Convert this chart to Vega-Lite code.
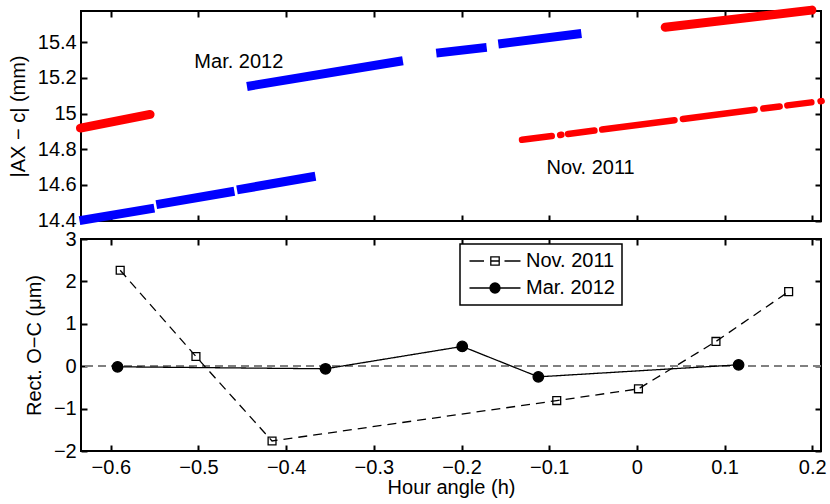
{
  "$schema": "https://vega.github.io/schema/vega-lite/v6.json",
  "padding": {"left": 7, "top": 4, "right": 0, "bottom": 0},
  "spacing": 18,
  "bounds": "flush",
  "config": {
    "font": "Liberation Sans",
    "view": {"stroke": "black", "strokeWidth": 2},
    "axis": {
      "domain": false, "grid": false, "tickColor": "black", "tickWidth": 2, "tickSize": -6,
      "labelFontSize": 20, "labelColor": "black", "labelFlush": false,
      "titleFontSize": 20, "titleFontWeight": "normal", "titleColor": "black",
      "minExtent": 0, "offset": 0
    },
    "axisX": {"labelPadding": 12, "titlePadding": 0},
    "axisY": {"labelPadding": 10.8, "titlePadding": 9},
    "legend": {"strokeWidth": 1.5}
  },
  "datasets": {
    "tracks": [
      {"campaign": "Nov. 2011", "seg": "N1", "ha": -0.6346, "ac": 14.919},
      {"campaign": "Nov. 2011", "seg": "N1", "ha": -0.5552, "ac": 14.9955},
      {"campaign": "Nov. 2011", "seg": "N3", "ha": 0.0323, "ac": 15.484},
      {"campaign": "Nov. 2011", "seg": "N3", "ha": 0.1996, "ac": 15.58},
      {"campaign": "Nov. 2011", "seg": "N2a", "ha": -0.131, "ac": 14.853},
      {"campaign": "Nov. 2011", "seg": "N2a", "ha": -0.0971, "ac": 14.874},
      {"campaign": "Nov. 2011", "seg": "N2b", "ha": -0.0875, "ac": 14.88},
      {"campaign": "Nov. 2011", "seg": "N2b", "ha": -0.0861, "ac": 14.881},
      {"campaign": "Nov. 2011", "seg": "N2c", "ha": -0.0785, "ac": 14.886},
      {"campaign": "Nov. 2011", "seg": "N2c", "ha": -0.0484, "ac": 14.905},
      {"campaign": "Nov. 2011", "seg": "N2d", "ha": -0.0396, "ac": 14.911},
      {"campaign": "Nov. 2011", "seg": "N2d", "ha": 0.0429, "ac": 14.963},
      {"campaign": "Nov. 2011", "seg": "N2e", "ha": 0.0525, "ac": 14.97},
      {"campaign": "Nov. 2011", "seg": "N2e", "ha": 0.1343, "ac": 15.022},
      {"campaign": "Nov. 2011", "seg": "N2f", "ha": 0.1442, "ac": 15.028},
      {"campaign": "Nov. 2011", "seg": "N2f", "ha": 0.1628, "ac": 15.04},
      {"campaign": "Nov. 2011", "seg": "N2g", "ha": 0.1716, "ac": 15.046},
      {"campaign": "Nov. 2011", "seg": "N2g", "ha": 0.199, "ac": 15.063},
      {"campaign": "Nov. 2011", "seg": "N2h", "ha": 0.2095, "ac": 15.069},
      {"campaign": "Nov. 2011", "seg": "N2h", "ha": 0.2107, "ac": 15.07},
      {"campaign": "Mar. 2012", "seg": "M1", "ha": -0.6357, "ac": 14.4},
      {"campaign": "Mar. 2012", "seg": "M1", "ha": -0.5504, "ac": 14.47},
      {"campaign": "Mar. 2012", "seg": "M2", "ha": -0.5481, "ac": 14.49},
      {"campaign": "Mar. 2012", "seg": "M2", "ha": -0.4591, "ac": 14.565},
      {"campaign": "Mar. 2012", "seg": "M3", "ha": -0.4561, "ac": 14.5725},
      {"campaign": "Mar. 2012", "seg": "M3", "ha": -0.3666, "ac": 14.649},
      {"campaign": "Mar. 2012", "seg": "M4", "ha": -0.4447, "ac": 15.152},
      {"campaign": "Mar. 2012", "seg": "M4", "ha": -0.2669, "ac": 15.296},
      {"campaign": "Mar. 2012", "seg": "M5", "ha": -0.2288, "ac": 15.339},
      {"campaign": "Mar. 2012", "seg": "M5", "ha": -0.1713, "ac": 15.371},
      {"campaign": "Mar. 2012", "seg": "M6", "ha": -0.158, "ac": 15.39},
      {"campaign": "Mar. 2012", "seg": "M6", "ha": -0.0633, "ac": 15.449}
    ],
    "labels": [
      {"ha": -0.454, "ac": 15.258, "label": "Mar. 2012"},
      {"ha": -0.0528, "ac": 14.663, "label": "Nov. 2011"}
    ],
    "residuals": [
      {"campaign": "Nov. 2011", "ha": -0.5893, "oc": 2.262},
      {"campaign": "Nov. 2011", "ha": -0.5029, "oc": 0.229},
      {"campaign": "Nov. 2011", "ha": -0.4161, "oc": -1.764},
      {"campaign": "Nov. 2011", "ha": -0.0914, "oc": -0.811},
      {"campaign": "Nov. 2011", "ha": 0.0018, "oc": -0.534},
      {"campaign": "Nov. 2011", "ha": 0.0902, "oc": 0.584},
      {"campaign": "Nov. 2011", "ha": 0.1731, "oc": 1.759},
      {"campaign": "Mar. 2012", "ha": -0.5923, "oc": -0.014},
      {"campaign": "Mar. 2012", "ha": -0.3551, "oc": -0.061},
      {"campaign": "Mar. 2012", "ha": -0.1992, "oc": 0.466},
      {"campaign": "Mar. 2012", "ha": -0.1124, "oc": -0.251},
      {"campaign": "Mar. 2012", "ha": 0.116, "oc": 0.033}
    ]
  },
  "vconcat": [
    {
      "width": 740,
      "height": 210,
      "layer": [
        {
          "data": {"name": "tracks"},
          "transform": [{"filter": "datum.campaign === 'Mar. 2012'"}],
          "mark": {"type": "line", "strokeWidth": 9, "strokeCap": "butt", "strokeJoin": "round", "color": "#0000ff"},
          "encoding": {
            "x": {"field": "ha", "type": "quantitative",
              "scale": {"domain": [-0.634, 0.21], "nice": false, "zero": false},
              "axis": {"orient": "bottom", "labels": false, "title": null, "values": [-0.6, -0.5, -0.4, -0.3, -0.2, -0.1, 0, 0.1, 0.2]}},
            "y": {"field": "ac", "type": "quantitative",
              "scale": {"domain": [14.398, 15.575], "nice": false, "zero": false},
              "axis": {"orient": "left", "title": "|AX − c| (mm)", "format": "~g", "values": [14.4, 14.6, 14.8, 15, 15.2, 15.4]}},
            "detail": {"field": "seg"}
          }
        },
        {
          "data": {"name": "tracks"},
          "transform": [{"filter": "datum.seg === 'N1' || datum.seg === 'N3'"}],
          "mark": {"type": "line", "strokeWidth": 9, "strokeCap": "round", "strokeJoin": "round", "color": "#ff0000"},
          "encoding": {
            "x": {"field": "ha", "type": "quantitative", "axis": null},
            "y": {"field": "ac", "type": "quantitative", "axis": null},
            "detail": {"field": "seg"}
          }
        },
        {
          "data": {"name": "tracks"},
          "transform": [{"filter": "datum.campaign === 'Nov. 2011' && datum.seg !== 'N1' && datum.seg !== 'N3'"}],
          "mark": {"type": "line", "strokeWidth": 6.5, "strokeCap": "round", "strokeJoin": "round", "color": "#ff0000"},
          "encoding": {
            "x": {"field": "ha", "type": "quantitative", "axis": null},
            "y": {"field": "ac", "type": "quantitative", "axis": null},
            "detail": {"field": "seg"}
          }
        },
        {
          "data": {"name": "labels"},
          "mark": {"type": "text", "fontSize": 20, "align": "center", "baseline": "alphabetic", "color": "black"},
          "encoding": {
            "x": {"field": "ha", "type": "quantitative",
              "axis": {"orient": "top", "labels": false, "title": null, "values": [-0.6, -0.5, -0.4, -0.3, -0.2, -0.1, 0, 0.1, 0.2]}},
            "y": {"field": "ac", "type": "quantitative",
              "axis": {"orient": "right", "labels": false, "title": null, "values": [14.4, 14.6, 14.8, 15, 15.2, 15.4]}},
            "text": {"field": "label"}
          }
        }
      ]
    },
    {
      "width": 740,
      "height": 212,
      "data": {"name": "residuals"},
      "layer": [
        {
          "mark": {"type": "rule", "color": "#808080", "strokeWidth": 1.2, "strokeDash": [8, 5]},
          "encoding": {
            "y": {"datum": 0, "type": "quantitative", "axis": null}
          }
        },
        {
          "mark": {"type": "line", "color": "black", "strokeWidth": 1.3},
          "encoding": {
            "x": {"field": "ha", "type": "quantitative",
              "scale": {"domain": [-0.634, 0.21], "nice": false, "zero": false},
              "axis": {"orient": "bottom", "title": "Hour angle (h)", "format": "~g", "values": [-0.6, -0.5, -0.4, -0.3, -0.2, -0.1, 0, 0.1, 0.2]}},
            "y": {"field": "oc", "type": "quantitative",
              "scale": {"domain": [-2, 3], "nice": false, "zero": false},
              "axis": {"orient": "left", "title": "Rect. O−C (μm)", "format": "~g", "values": [-2, -1, 0, 1, 2, 3]}},
            "detail": {"field": "campaign"},
            "strokeDash": {"condition": {"test": "datum.campaign === 'Nov. 2011'", "value": [9, 6]}, "value": [1, 0]}
          }
        },
        {
          "mark": {"type": "point", "filled": true, "stroke": "black", "strokeWidth": 1.3, "size": 110, "opacity": 1},
          "encoding": {
            "x": {"field": "ha", "type": "quantitative",
              "axis": {"orient": "top", "labels": false, "title": null, "values": [-0.6, -0.5, -0.4, -0.3, -0.2, -0.1, 0, 0.1, 0.2]}},
            "y": {"field": "oc", "type": "quantitative",
              "axis": {"orient": "right", "labels": false, "title": null, "values": [-2, -1, 0, 1, 2, 3]}},
            "fill": {"condition": {"test": "datum.campaign === 'Mar. 2012'", "value": "black"}, "value": "transparent"},
            "shape": {"condition": {"test": "datum.campaign === 'Nov. 2011'", "value": "M-0.75,-0.75H0.75V0.75H-0.75Z"}, "value": "circle"}
          }
        },
        {
          "transform": [{"filter": "false"}],
          "mark": {"type": "point", "filled": true, "strokeWidth": 1.3, "opacity": 1},
          "encoding": {
            "x": {"field": "ha", "type": "quantitative", "axis": null},
            "y": {"field": "oc", "type": "quantitative", "axis": null},
            "stroke": {"field": "campaign", "type": "nominal",
              "scale": {"domain": ["Nov. 2011", "Mar. 2012"], "range": ["black", "black"]},
              "legend": {
                "orient": "none", "legendX": 379, "legendY": 233, "title": null,
                "labelFontSize": 20, "labelColor": "black", "labelOffset": 21,
                "symbolOffset": 18, "symbolSize": 100, "symbolStrokeWidth": 1.3,
                "rowPadding": 7, "padding": 7, "strokeColor": "black", "fillColor": "white"
              }},
            "fill": {"field": "campaign", "type": "nominal",
              "scale": {"domain": ["Nov. 2011", "Mar. 2012"], "range": ["transparent", "black"]},
              "legend": {
                "orient": "none", "legendX": 379, "legendY": 233, "title": null,
                "labelFontSize": 20, "labelColor": "black", "labelOffset": 21,
                "symbolOffset": 18, "symbolSize": 100, "symbolStrokeWidth": 1.3,
                "rowPadding": 7, "padding": 7, "strokeColor": "black", "fillColor": "white"
              }},
            "shape": {"field": "campaign", "type": "nominal",
              "scale": {"domain": ["Nov. 2011", "Mar. 2012"],
                "range": ["M-5.1,0H-2.2M-0.84,-0.84H0.84V0.84H-0.84ZM-0.84,0H0.84M1.9,0H5.1", "M-5.1,0H5.1M1,0A1,1,0,1,1,-1,0A1,1,0,1,1,1,0Z"]},
              "legend": {
                "orient": "none", "legendX": 379, "legendY": 233, "title": null,
                "labelFontSize": 20, "labelColor": "black", "labelOffset": 21,
                "symbolOffset": 18, "symbolSize": 100, "symbolStrokeWidth": 1.3,
                "rowPadding": 7, "padding": 7, "strokeColor": "black", "fillColor": "white"
              }}
          }
        }
      ]
    }
  ]
}
